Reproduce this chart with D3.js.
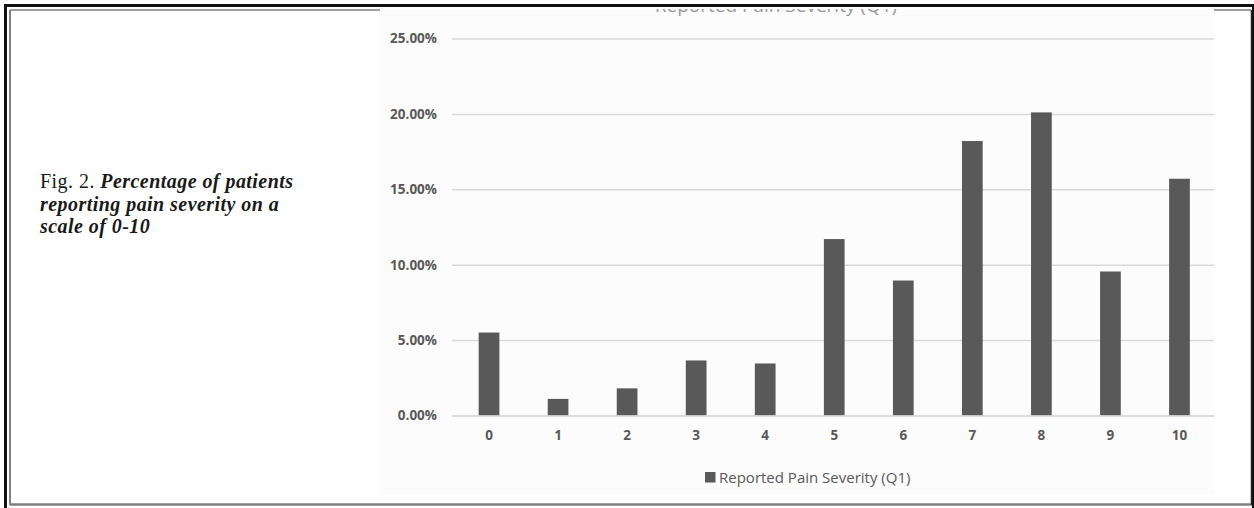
<!DOCTYPE html>
<html>
<head>
<meta charset="utf-8">
<script src="https://cdn.jsdelivr.net/npm/d3@7"></script>
<style>
  html, body { margin: 0; padding: 0; background: #ffffff; }
  svg { display: block; }
</style>
</head>
<body>
<svg id="fig" width="1254" height="508"></svg>
<script>
// Pain severity scores (0-10) and share of patients reporting each score, in percent
const categories = ["0", "1", "2", "3", "4", "5", "6", "7", "8", "9", "10"];
const percentages = [5.5, 1.1, 1.8, 3.65, 3.45, 11.7, 8.95, 18.2, 20.1, 9.55, 15.7];
const yTicks = [0, 5, 10, 15, 20, 25];
const seriesName = "Reported Pain Severity (Q1)";
const captionLines = [
  [{ t: "Fig. 2. ", italic: false }, { t: "Percentage of  patients", italic: true }],
  [{ t: "reporting pain severity on a", italic: true }],
  [{ t: "scale of  0-10", italic: true }]
];

const svg = d3.select("#fig");
const barColor = "#595959";
const textGray = "#595959";
const sans = "'Open Sans', sans-serif";

// Page frame: heavy black rule with a thinner grey rule inside
svg.append("rect").attr("x", 5.5).attr("y", 5.5).attr("width", 1248).attr("height", 510)
  .attr("fill", "none").attr("stroke", "#111").attr("stroke-width", 3);
svg.append("line").attr("x1", 10).attr("x2", 1251).attr("y1", 10).attr("y2", 10)
  .attr("stroke", "#808080").attr("stroke-width", 1.5);
svg.append("line").attr("x1", 10).attr("x2", 10).attr("y1", 10).attr("y2", 505)
  .attr("stroke", "#808080").attr("stroke-width", 2);
svg.append("line").attr("x1", 10).attr("x2", 1252).attr("y1", 504.5).attr("y2", 504.5)
  .attr("stroke", "#808080").attr("stroke-width", 2.5);
svg.append("line").attr("x1", 1251.5).attr("x2", 1251.5).attr("y1", 10).attr("y2", 505)
  .attr("stroke", "#222").attr("stroke-width", 1.5);

// Chart panel
svg.append("rect").attr("x", 380).attr("y", 9).attr("width", 834).attr("height", 486)
  .attr("fill", "#fcfcfc");

// Chart title, trimmed by the top edge of the panel
const defs = svg.append("defs");
defs.append("clipPath").attr("id", "titleClip")
  .append("rect").attr("x", 380).attr("y", 9).attr("width", 834).attr("height", 20);
svg.append("text")
  .attr("clip-path", "url(#titleClip)")
  .attr("x", 776).attr("y", 12)
  .attr("text-anchor", "middle")
  .attr("font-family", sans)
  .attr("font-size", 19)
  .attr("fill", "#9a9a9a")
  .text(seriesName);

// Caption
const cap = svg.append("g")
  .attr("font-family", "'Liberation Serif', 'Times New Roman', serif")
  .attr("font-size", 20)
  .attr("fill", "#1a1a1a");
captionLines.forEach((line, i) => {
  const t = cap.append("text").attr("x", 40).attr("y", 188 + i * 22.5)
    .attr("letter-spacing", 0.45);
  line.forEach(seg => {
    t.append("tspan")
      .attr("font-style", seg.italic ? "italic" : "normal")
      .attr("font-weight", seg.italic ? 600 : 400)
      .text(seg.t);
  });
});

// Scales
const x = d3.scaleBand()
  .domain(categories)
  .range([454.5, 1214])
  .paddingInner(0.7)
  .paddingOuter(0.35);

const y = d3.scaleLinear()
  .domain([0, 25])
  .range([415.5, 38.5]);

// Gridlines and y labels
const yAxis = svg.append("g")
  .attr("transform", "translate(452,0)")
  .call(d3.axisLeft(y).tickValues(yTicks).tickSize(-762).tickPadding(15)
    .tickFormat(d => d3.format(".2%")(d / 100)));
yAxis.select(".domain").remove();
yAxis.selectAll(".tick line").attr("stroke", "#d9d9d9").attr("stroke-width", 1.5);
yAxis.selectAll(".tick text")
  .attr("font-family", sans)
  .attr("font-size", 13.5)
  .attr("font-weight", 700)
  .attr("fill", textGray);

// Bars
svg.append("g").selectAll("rect")
  .data(categories.map((c, i) => ({ c, v: percentages[i] })))
  .join("rect")
  .attr("x", d => x(d.c))
  .attr("width", x.bandwidth())
  .attr("y", d => y(d.v))
  .attr("height", d => y(0) - y(d.v))
  .attr("fill", barColor);

// Category axis
const xAxis = svg.append("g")
  .attr("transform", `translate(0,${y(0)})`)
  .call(d3.axisBottom(x).tickSize(0).tickPadding(15));
xAxis.select(".domain").attr("stroke", "#d9d9d9").attr("stroke-width", 1.5);
xAxis.selectAll(".tick text")
  .attr("font-family", sans)
  .attr("font-size", 13.5)
  .attr("font-weight", 700)
  .attr("fill", textGray);

// Legend
const legend = svg.append("g").attr("transform", "translate(705,472)");
legend.append("rect").attr("width", 10.5).attr("height", 10.5).attr("fill", barColor);
legend.append("text")
  .attr("x", 14).attr("y", 10.5)
  .attr("font-family", sans)
  .attr("font-size", 15)
  .attr("fill", textGray)
  .text(seriesName);
</script>
</body>
</html>
